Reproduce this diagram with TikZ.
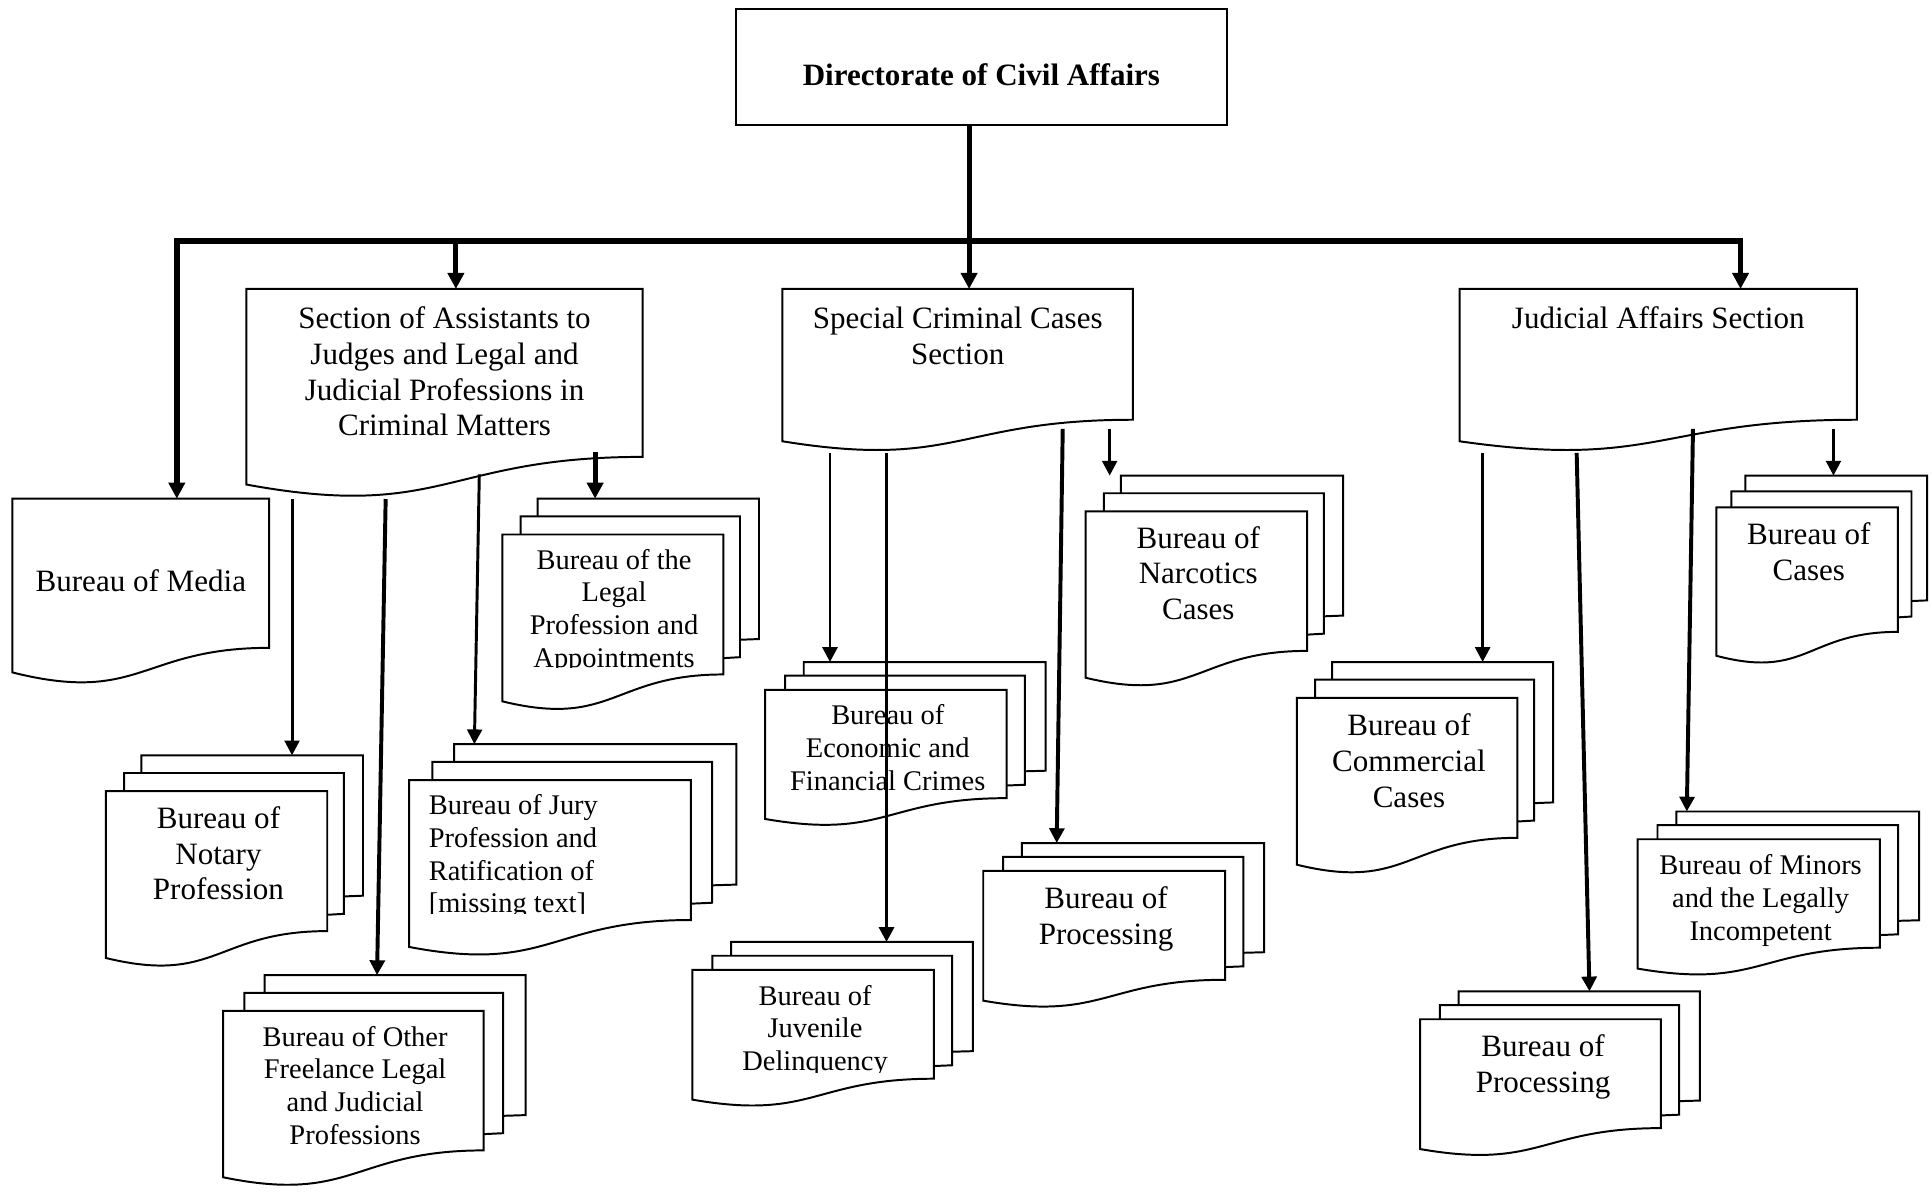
\documentclass[tikz,border=0pt]{standalone}
\usepackage{fontspec}
\setmainfont{Liberation Serif}
\usetikzlibrary{arrows.meta,calc}

\newcommand\bigfont{\fontsize{12.6pt}{14.5pt}\selectfont}
\newcommand\smallfont{\fontsize{11.55pt}{13.25pt}\selectfont}

% empty node spanning a shape's nominal box: name, left, right, top, height
\newcommand\frameat[5]{%
  \node[shapebox, minimum width={(#3-#2)*0.5pt}, minimum height={#5*0.5pt}]
    (#1) at ({(#2+#3)/2},{#4+#5/2}) {};}

% single document shape with a wavy bottom edge
\newcommand\docshape[1]{%
  \draw[outline] let \p1=(#1.north west), \p2=($(#1.south east)-(#1.north west)$) in
    (\x1,\y1) -- ({\x1+\x2},\y1) -- ({\x1+\x2},{\y1+0.8019*\y2})
    .. controls ({\x1+0.5*\x2},{\y1+0.8019*\y2}) and ({\x1+0.5*\x2},{\y1+1.1075*\y2})
    .. (\x1,{\y1+0.9339*\y2}) -- cycle;}

% stack of three documents, drawn back to front
\newcommand\multidoc[1]{%
  \draw[outline] let \p1=(#1.north west), \p2=($(#1.south east)-(#1.north west)$) in
    ({\x1+0.1376*\x2},\y1) -- ({\x1+\x2},\y1) -- ({\x1+\x2},{\y1+0.6663*\y2})
    -- ({\x1+0.9259*\x2},{\y1+0.6698*\y2}) -- ({\x1+0.1376*\x2},{\y1+0.6698*\y2}) -- cycle;
  \draw[outline] let \p1=(#1.north west), \p2=($(#1.south east)-(#1.north west)$) in
    ({\x1+0.0709*\x2},{\y1+0.0840*\y2}) -- ({\x1+0.9259*\x2},{\y1+0.0840*\y2})
    -- ({\x1+0.9259*\x2},{\y1+0.7524*\y2}) -- ({\x1+0.8609*\x2},{\y1+0.7570*\y2})
    -- ({\x1+0.0709*\x2},{\y1+0.7570*\y2}) -- cycle;
  \draw[outline] let \p1=(#1.north west), \p2=($(#1.south east)-(#1.north west)$) in
    (\x1,{\y1+0.1701*\y2}) -- ({\x1+0.8609*\x2},{\y1+0.1701*\y2})
    -- ({\x1+0.8609*\x2},{\y1+0.8344*\y2})
    .. controls ({\x1+0.4305*\x2},{\y1+0.8344*\y2}) and ({\x1+0.4305*\x2},{\y1+1.0899*\y2})
    .. (\x1,{\y1+0.9621*\y2}) -- cycle;}

\tikzset{
  shapebox/.style={draw=none, inner sep=0pt, outer sep=0pt},
  outline/.style={draw=black, line width=0.8pt, fill=white},
  lbl/.style={inner sep=0pt, outer sep=0pt, align=center, anchor=north, font=\bigfont},
  lblsm/.style={lbl, font=\smallfont},
  bus/.style={line width=2.3pt, {Triangle[width=6.5pt,length=6.5pt]}-{Triangle[width=6.5pt,length=6.5pt]}},
  drop/.style={line width=2pt, -{Triangle[width=6.5pt,length=6.5pt]}},
  thinlink/.style={line width=1.2pt, -{Triangle[width=6pt,length=6pt]}},
  midlink/.style={line width=1.6pt, -{Triangle[width=6pt,length=6pt]}},
}

\begin{document}
\begin{tikzpicture}[x=0.5pt, y=-0.5pt]
\path[fill=white, use as bounding box] (0,0) rectangle (1568,967);

% ---- shape boxes ----
\frameat{top}{597.5}{995.5}{7}{94.5}
\frameat{sa}{200}{521.5}{234.5}{170}
\frameat{sb}{635}{919.5}{234.5}{132.4}
\frameat{sc}{1184.6}{1507}{234.5}{132.4}
\frameat{media}{10}{218.5}{404.7}{151}
\frameat{legal}{407.7}{616}{404.7}{171}
\frameat{notary}{86}{294.6}{613}{171}
\frameat{freelance}{181}{426.6}{791.4}{170.5}
\frameat{jury}{332}{597.6}{604}{171}
\frameat{econ}{621}{848.6}{537.3}{132.4}
\frameat{juvenile}{562}{789.6}{764.5}{133}
\frameat{narcotics}{881}{1090}{386}{170.5}
\frameat{procA}{798}{1026}{684.2}{133}
\frameat{commercial}{1052.6}{1260.4}{537.3}{171}
\frameat{cases}{1393}{1564}{386}{152}
\frameat{minors}{1329}{1557.5}{658.6}{132.5}
\frameat{procB}{1152.5}{1379.6}{804.6}{133}

\draw[outline] (top.north west) rectangle (top.south east);
\docshape{sa}
\docshape{sb}
\docshape{sc}
\docshape{media}
\multidoc{legal}
\multidoc{notary}
\multidoc{freelance}
\multidoc{jury}
\multidoc{econ}
\multidoc{juvenile}
\multidoc{narcotics}
\multidoc{procA}
\multidoc{commercial}
\multidoc{cases}
\multidoc{minors}
\multidoc{procB}

% ---- labels ----
\node[lbl, font=\bigfont\bfseries] (top-t) at (796.5,51.3) {Directorate of Civil Affairs};
\node[lbl] (sa-t) at (360.8,249.1) {Section of Assistants to\\Judges and Legal and\\Judicial Professions in\\Criminal Matters};
\node[lbl] (sb-t) at (777.3,249.1) {Special Criminal Cases\\Section};
\node[lbl] (sc-t) at (1345.8,248.8) {Judicial Affairs Section};
\node[lbl] (media-t) at (114.3,462.6) {Bureau of Media};
\begin{scope}
  \clip (407.7,430) rectangle (587.5,541.5);
  \node[lblsm] (legal-t) at (498.4,445.6) {Bureau of the\\Legal\\Profession and\\Appointments};
\end{scope}
\node[lbl] (notary-t) at (177.3,654.5) {Bureau of\\Notary\\Profession};
\node[lblsm] (freelance-t) at (288.2,832.7) {Bureau of Other\\Freelance Legal\\and Judicial\\Professions};
\begin{scope}
  \clip (332,630) rectangle (560.6,741);
  \node[lblsm, anchor=north west, align=left] (jury-t) at (348,645.1) {Bureau of Jury\\Profession and\\Ratification of\\{[missing text]}};
\end{scope}
\node[lblsm] (econ-t) at (720.5,572.1) {Bureau of\\Economic and\\Financial Crimes};
\begin{scope}
  \clip (562,785) rectangle (758,870.5);
  \node[lblsm] (juvenile-t) at (661.5,799.4) {Bureau of\\Juvenile\\Delinquency};
\end{scope}
\node[lbl] (narcotics-t) at (972.5,427.2) {Bureau of\\Narcotics\\Cases};
\node[lbl] (procA-t) at (897.7,719.5) {Bureau of\\Processing};
\node[lbl] (commercial-t) at (1143.5,579.3) {Bureau of\\Commercial\\Cases};
\node[lbl] (cases-t) at (1468,424.1) {Bureau of\\Cases};
\node[lblsm] (minors-t) at (1428.9,693.8) {Bureau of Minors\\and the Legally\\Incompetent};
\node[lbl] (procB-t) at (1252.3,840.1) {Bureau of\\Processing};

% ---- top level connectors ----
\coordinate (busL) at (143.5,195.7);
\coordinate (busR) at (1412.6,195.7);
\coordinate (trunk) at (786.5,195.7);
\coordinate (dropA) at (370,195.7);
\draw[bus] (busL |- media.north) -- (busL) -- (busR) -- (busR |- sc.north);
\draw[drop] (trunk |- top.south) -- (trunk |- sb.north);
\draw[drop] (dropA) -- (dropA |- sa.north);

% ---- section of assistants ----
\coordinate (a1) at (237,405);
\coordinate (a2) at (313,405);   \coordinate (a2x) at (306,0);
\coordinate (a3) at (389,385);   \coordinate (a3x) at (385,0);
\coordinate (a4) at (483,366.5);
\draw[thinlink] (a1) -- (a1 |- notary.north);
\draw[midlink] (a2) -- (a2x |- freelance.north);
\draw[thinlink] (a3) -- (a3x |- jury.north);
\draw[drop] (a4) -- (a4 |- legal.north);

% ---- special criminal cases ----
\coordinate (b1) at (673.6,367.5);
\coordinate (b2) at (719.5,367.5);
\coordinate (b3) at (862.5,348);  \coordinate (b3x) at (857.6,0);
\coordinate (b4) at (900.6,348);
\draw[thinlink] (b1) -- (b1 |- econ.north);
\draw[thinlink, line width=1.4pt] (b2) -- (b2 |- juvenile.north);
\draw[midlink] (b3) -- (b3x |- procA.north);
\draw[thinlink] (b4) -- (b4 |- narcotics.north);

% ---- judicial affairs ----
\coordinate (c1) at (1203.3,367.5);
\coordinate (c2) at (1279.6,367.5); \coordinate (c2x) at (1290,0);
\coordinate (c3) at (1374,348);     \coordinate (c3x) at (1369,0);
\coordinate (c4) at (1488,348);
\draw[thinlink] (c1) -- (c1 |- commercial.north);
\draw[midlink] (c2) -- (c2x |- procB.north);
\draw[midlink] (c3) -- (c3x |- minors.north);
\draw[thinlink] (c4) -- (c4 |- cases.north);
\end{tikzpicture}
\end{document}
